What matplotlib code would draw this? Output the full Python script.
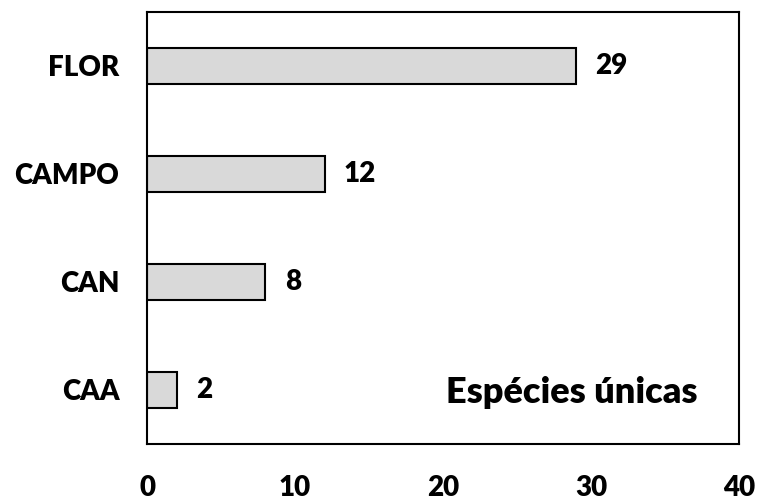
import matplotlib.pyplot as plt

categorias = ["CAA", "CAN", "CAMPO", "FLOR"]
valores = [2, 8, 12, 29]
xticks = [0, 10, 20, 30, 40]

plt.rcParams['font.family'] = ['Lato', 'DejaVu Sans']

fig = plt.figure(figsize=(7.58, 5), dpi=100)
ax = fig.add_axes([0.194, 0.112, 0.781, 0.864])

ax.barh(range(len(categorias)), valores, height=0.33, color="#d9d9d9",
        edgecolor="black", linewidth=1.5)
for i, v in enumerate(valores):
    ax.text(v + 1.3, i, str(v), va="center", ha="left", fontsize=20, fontweight="heavy")

ax.set_xlim(0, 40)
ax.set_ylim(-0.5, 3.5)
ax.set_xticks(xticks)
ax.set_yticks(range(len(categorias)))
ax.set_yticklabels(categorias)
ax.tick_params(length=0, labelsize=20)
ax.tick_params(axis="x", pad=22)
ax.tick_params(axis="y", pad=20)
for lab in ax.get_xticklabels() + ax.get_yticklabels():
    lab.set_fontweight("heavy")
for s in ax.spines.values():
    s.set_linewidth(1.5)

ax.text(0.93, 0.12, "Espécies únicas", transform=ax.transAxes, ha="right",
        va="center", fontsize=26, fontweight="heavy")

fig.savefig("out.png", dpi=100)
plt.close(fig)
